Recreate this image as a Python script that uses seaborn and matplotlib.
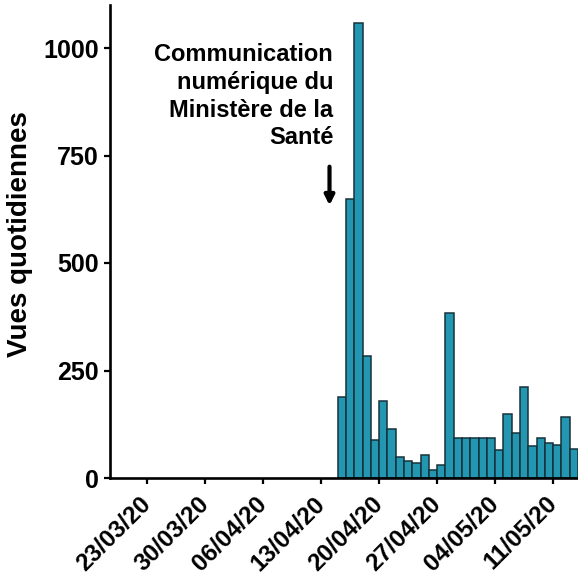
import matplotlib
matplotlib.use("Agg")
import matplotlib.pyplot as plt
import numpy as np
import pandas as pd
import seaborn as sns

# données
dates = pd.date_range("2020-04-15", "2020-05-13", freq="D")
views = [188, 650, 1057, 283, 88, 178, 115, 49, 40, 36, 54, 19, 30, 384,
         93, 93, 93, 93, 93, 64, 150, 104, 212, 74, 93, 81, 77, 143, 68]
tick_labels = ["23/03/20", "30/03/20", "06/04/20", "13/04/20",
               "20/04/20", "27/04/20", "04/05/20", "11/05/20"]
y_ticks = [0, 250, 500, 750, 1000]

ref = pd.Timestamp("2020-03-23")
days = np.array((dates - ref).days, dtype=float)
tick_pos = [(pd.to_datetime(t, format="%d/%m/%y") - ref).days for t in tick_labels]

sns.set_style("ticks")
plt.rcParams["font.family"] = ["Liberation Sans", "DejaVu Sans"]
plt.rcParams["font.weight"] = "bold"
for k in ["text.color", "axes.labelcolor", "xtick.color", "ytick.color", "axes.edgecolor"]:
    plt.rcParams[k] = "black"

fig = plt.figure(figsize=(5.78, 5.83), dpi=100)
ax = fig.add_axes([110 / 578, 1 - 478 / 583, 468 / 578, 473 / 583])

df = pd.DataFrame({"jour": days, "vues": views})
sns.histplot(data=df, x="jour", weights="vues",
             binwidth=1, binrange=(days[0], days[-1] + 1), ax=ax,
             color="#2396b1", alpha=1, edgecolor="#16323a", linewidth=1.1)

ax.set_xlim(-4.5, 52)
ax.set_ylim(0, 1100)
ax.set_yticks(y_ticks)
ax.set_yticklabels([str(v) for v in y_ticks], fontsize=18, fontweight="bold")
ax.set_xticks(tick_pos)
ax.set_xticklabels(tick_labels, rotation=45, ha="right", va="center",
                   rotation_mode="anchor", fontsize=17.5, fontweight="bold")
ax.set_xlabel("")
ax.set_ylabel("Vues quotidiennes", fontsize=20, fontweight="bold")
ax.yaxis.set_label_coords(-0.165, 0.516)

for s in ["top", "right"]:
    ax.spines[s].set_visible(False)
for s in ["left", "bottom"]:
    ax.spines[s].set_linewidth(1.9)
ax.tick_params(axis="both", width=1.6, length=4)
ax.tick_params(axis="x", pad=12)
ax.tick_params(axis="y", pad=4)

ax.text(22.45, 1012, "Communication\nnumérique du\nMinistère de la\nSanté",
        ha="right", va="top", multialignment="right", fontsize=17,
        fontweight="bold", linespacing=1.27)
ax.annotate("", xy=(22, 634), xytext=(22, 724),
            arrowprops=dict(arrowstyle="-|>", lw=3, color="black",
                            mutation_scale=14, shrinkA=0, shrinkB=0))

fig.savefig("out.png", dpi=100)
